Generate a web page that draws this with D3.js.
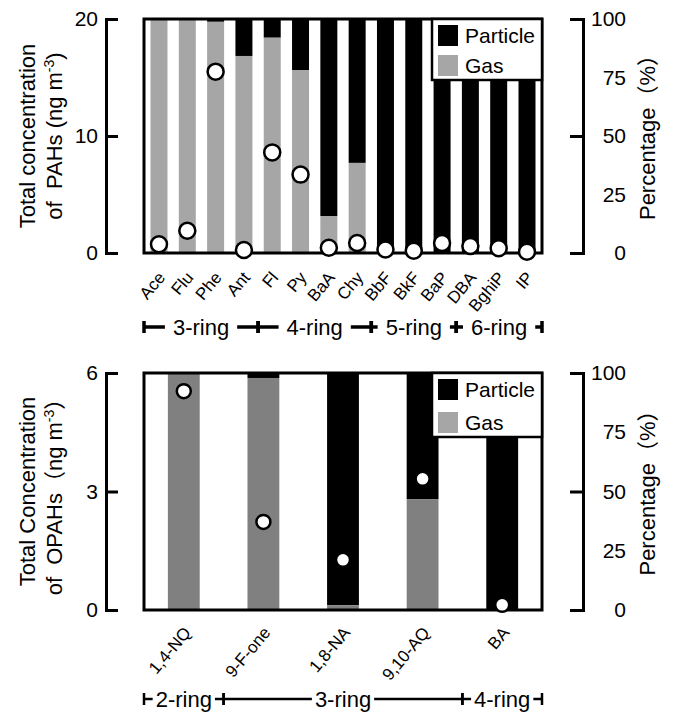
<!DOCTYPE html>
<html>
<head>
<meta charset="utf-8">
<script src="https://cdn.jsdelivr.net/npm/d3@7"></script>
<style>
  body { margin: 0; background: #fff; }
  svg text { font-family: "Liberation Sans", Arial, "Noto Sans CJK SC", sans-serif; fill: #000; }
</style>
</head>
<body>
<svg id="chart" width="675" height="716"></svg>
<script>
// PAHs (top panel)
const pahNames = ['Ace', 'Flu', 'Phe', 'Ant', 'Fl', 'Py', 'BaA', 'Chy', 'BbF', 'BkF', 'BaP', 'DBA', 'BghiP', 'IP'];
const pahGasPct = [100, 100, 98.8, 84.2, 92.0, 78.2, 15.8, 38.5, 0, 0, 0, 0, 0, 0];
const pahConc = [0.75, 1.9, 15.5, 0.25, 8.6, 6.7, 0.45, 0.85, 0.3, 0.2, 0.85, 0.6, 0.4, 0.1];
const pahConcTicks = [0, 10, 20];
const pahRingLabels = ['3-ring', '4-ring', '5-ring', '6-ring'];
const pahRingFirst = ['Ace', 'Fl', 'BbF', 'DBA'];
const pahRingLast = ['Ant', 'Chy', 'BaP', 'IP'];

// OPAHs (bottom panel)
const opahNames = ['1,4-NQ', '9-F-one', '1,8-NA', '9,10-AQ', 'BA'];
const opahGasPct = [100, 97.9, 2, 46.8, 0];
const opahConc = [5.54, 2.23, 1.27, 3.32, 0.13];
const opahConcTicks = [0, 3, 6];
const opahRingLabels = ['2-ring', '3-ring', '4-ring'];
const opahRingFirst = ['1,4-NQ', '9-F-one', 'BA'];
const opahRingLast = ['1,4-NQ', '9,10-AQ', 'BA'];

// shared right axis
const pctLabels = [0, 25, 50, 75, 100];
const pctTicks = [0, 50, 100];
const legendLabels = ['Particle', 'Gas'];

const left = 144;
const right = 542;
const axisL = 106;
const axisR = 583;
const legendGray = '#a6a6a6';

const svg = d3.select('#chart');

function drawRings(g, x, p) {
  const half = (x.step() - x.bandwidth()) / 2;
  const n = p.ringLabels.length;
  p.ringLabels.forEach((label, i) => {
    const x0 = i === 0 ? left : x(p.ringFirst[i]) - half;
    const x1 = i === n - 1 ? right : x(p.ringLast[i]) + x.bandwidth() + half;
    const cx = (x0 + x1) / 2;
    const txt = g.append('text')
      .attr('x', cx)
      .attr('y', p.ringY + 8)
      .attr('text-anchor', 'middle')
      .attr('font-size', 22)
      .text(label);
    const w = txt.node().getComputedTextLength();
    const segs = [[x0, cx - w / 2 - p.ringGap], [cx + w / 2 + p.ringGap, x1]];
    segs.forEach(s => {
      if (s[1] > s[0]) {
        g.append('line')
          .attr('x1', s[0]).attr('x2', s[1])
          .attr('y1', p.ringY).attr('y2', p.ringY)
          .attr('stroke', '#000').attr('stroke-width', p.ringStroke);
      }
    });
    [x0, x1].forEach(xv => {
      g.append('line')
        .attr('x1', xv).attr('x2', xv)
        .attr('y1', p.ringY - 6).attr('y2', p.ringY + 6)
        .attr('stroke', '#000').attr('stroke-width', p.ringStroke);
    });
  });
}

function drawPanel(p) {
  const g = svg.append('g');
  const x = d3.scaleBand()
    .domain(p.names)
    .range([left, right])
    .paddingInner(p.padInner)
    .paddingOuter(p.padOuter);
  const yPct = d3.scaleLinear().domain([0, 100]).range([p.bottom, p.top]);
  const yConc = d3.scaleLinear().domain([0, p.concMax]).range([p.bottom, p.top]);

  const rows = p.names.map((name, i) => ({ name, gas: p.gas[i], conc: p.conc[i] }));

  // stacked percentage bars
  const bars = g.selectAll('.bar').data(rows).enter().append('g').attr('class', 'bar');
  bars.append('rect')
    .attr('x', d => x(d.name))
    .attr('width', x.bandwidth())
    .attr('y', yPct(100))
    .attr('height', d => yPct(d.gas) - yPct(100))
    .attr('fill', '#000');
  bars.append('rect')
    .attr('x', d => x(d.name))
    .attr('width', x.bandwidth())
    .attr('y', d => yPct(d.gas))
    .attr('height', d => yPct(0) - yPct(d.gas))
    .attr('fill', p.gasColor);

  // frame
  g.append('rect')
    .attr('x', left).attr('y', p.top)
    .attr('width', right - left).attr('height', p.bottom - p.top)
    .attr('fill', 'none').attr('stroke', '#000').attr('stroke-width', 3);

  // legend
  const lg = g.append('g').attr('transform', `translate(${right - 110},${p.top})`);
  lg.append('rect')
    .attr('width', 110).attr('height', p.legendH)
    .attr('fill', '#fff').attr('stroke', '#000').attr('stroke-width', 2.5);
  legendLabels.forEach((label, i) => {
    const yy = 6 + i * p.legendRow;
    lg.append('rect')
      .attr('x', 6).attr('y', yy)
      .attr('width', 20).attr('height', 21)
      .attr('fill', i === 0 ? '#000' : legendGray);
    lg.append('text')
      .attr('x', 33).attr('y', yy + 18)
      .attr('font-size', 21)
      .text(label);
  });

  // concentration points
  g.selectAll('.pt').data(rows).enter().append('circle')
    .attr('class', 'pt')
    .attr('cx', d => x(d.name) + x.bandwidth() / 2)
    .attr('cy', d => yConc(d.conc))
    .attr('r', p.radius)
    .attr('fill', '#fff')
    .attr('stroke', '#000')
    .attr('stroke-width', 2.5);

  // left axis
  g.append('g')
    .attr('transform', `translate(${axisL},0)`)
    .call(d3.axisLeft(yConc).tickValues(p.concTicks).tickSize(-12).tickPadding(8).tickFormat(d3.format('d')))
    .call(a => a.selectAll('path, line').attr('stroke', '#000').attr('stroke-width', 3))
    .call(a => a.selectAll('text').attr('font-size', 21));

  // right axis
  g.append('g')
    .attr('transform', `translate(${axisR},0)`)
    .call(d3.axisRight(yPct).tickValues(pctLabels).tickSize(-13).tickPadding(0))
    .call(a => a.selectAll('path, line').attr('stroke', '#000').attr('stroke-width', 3))
    .call(a => a.selectAll('.tick line').filter(d => !pctTicks.includes(d)).remove())
    .call(a => a.selectAll('text').attr('font-size', 21).attr('text-anchor', 'end').attr('x', 43));

  // category labels, slanted
  g.selectAll('.cat').data(rows).enter().append('text')
    .attr('class', 'cat')
    .attr('transform', d => `translate(${x(d.name) + x.bandwidth() / 2 + p.labDx},${p.bottom + p.labDy}) rotate(-50)`)
    .attr('text-anchor', 'end')
    .attr('font-size', p.labSize)
    .text(d => d.name);

  // axis titles
  const cy = (p.top + p.bottom) / 2;
  g.append('text')
    .attr('transform', `translate(35,${cy}) rotate(-90)`)
    .attr('text-anchor', 'middle')
    .attr('font-size', 22)
    .text(p.title1);
  const t2 = g.append('text')
    .attr('transform', `translate(62,${cy}) rotate(-90)`)
    .attr('text-anchor', 'middle')
    .attr('font-size', 22);
  t2.append('tspan').text(p.title2);
  t2.append('tspan').attr('dy', -8).attr('font-size', 14).text('-3');
  t2.append('tspan').attr('dy', 8).text(p.title2End);

  g.append('text')
    .attr('transform', `translate(655,${cy - 4}) rotate(-90)`)
    .attr('text-anchor', 'middle')
    .attr('font-size', 22)
    .text('Percentage（%）');

  drawRings(g, x, p);
}

drawPanel({
  names: pahNames, gas: pahGasPct, conc: pahConc,
  concMax: 20, concTicks: pahConcTicks,
  top: 19, bottom: 253,
  padInner: 0.4, padOuter: 0.23,
  gasColor: '#a6a6a6', radius: 8,
  legendH: 61, legendRow: 30,
  labDx: 7, labDy: 25, labSize: 17,
  title1: 'Total concentration', title2: 'of\u00a0\u00a0PAHs (ng m', title2End: ')',
  ringLabels: pahRingLabels, ringFirst: pahRingFirst, ringLast: pahRingLast,
  ringY: 327, ringGap: 8, ringStroke: 3.5
});

drawPanel({
  names: opahNames, gas: opahGasPct, conc: opahConc,
  concMax: 6, concTicks: opahConcTicks,
  top: 373, bottom: 610,
  padInner: 0.6, padOuter: 0.3,
  gasColor: '#808080', radius: 7,
  legendH: 64, legendRow: 33,
  labDx: 8, labDy: 23, labSize: 17,
  title1: 'Total Concentration', title2: 'of\u00a0\u00a0OPAHs（ng m', title2End: '）',
  ringLabels: opahRingLabels, ringFirst: opahRingFirst, ringLast: opahRingLast,
  ringY: 699, ringGap: 3, ringStroke: 2.5
});
</script>
</body>
</html>
